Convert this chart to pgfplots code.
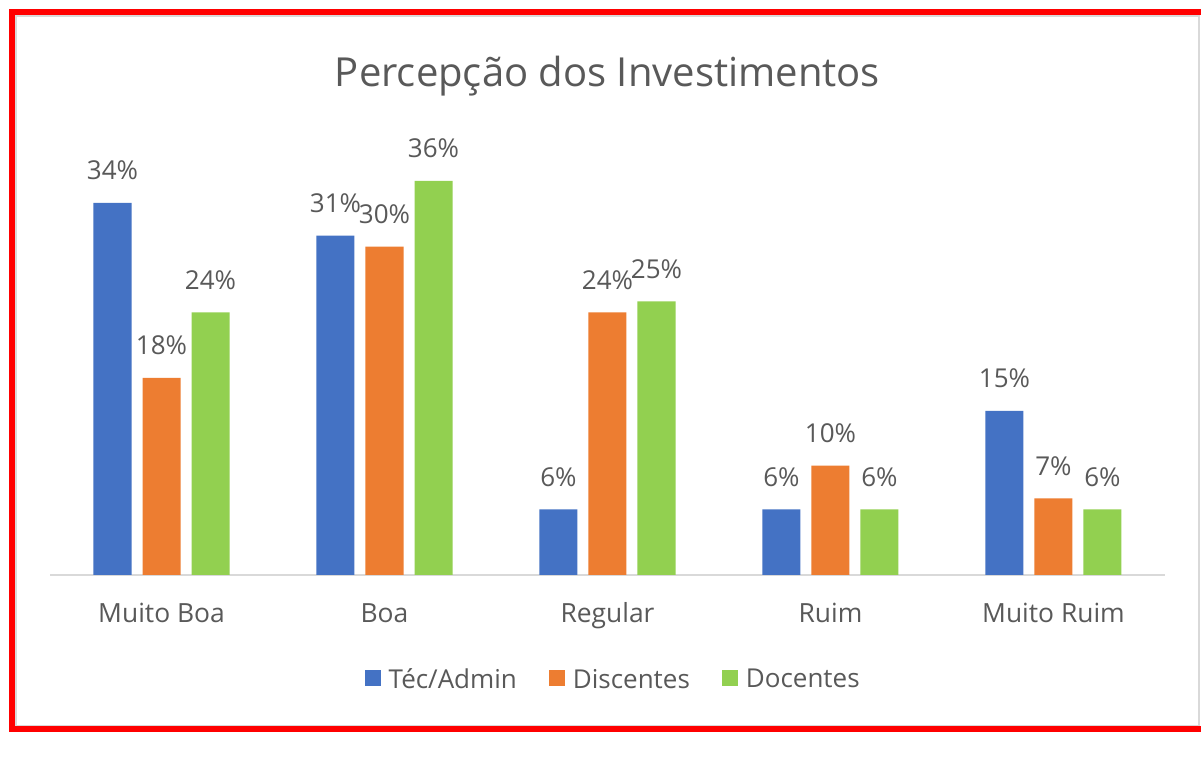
\documentclass[border=0pt]{standalone}
\usepackage{pgfplots}
\pgfplotsset{compat=1.18}
\usepackage{fontspec}
\setmainfont{Open Sans}
\definecolor{cblue}{HTML}{4472C4}
\definecolor{corange}{HTML}{ED7D31}
\definecolor{cgreen}{HTML}{92D050}
\definecolor{tgray}{HTML}{595959}
\definecolor{agray}{HTML}{D9D9D9}
\begin{document}
\begin{tikzpicture}
\begin{scope}[x=0.5pt,y=0.5pt]
\useasboundingbox (0,0) rectangle (1201,760);
\fill[white] (0,0) rectangle (1201,760);
\begin{scope}
\clip (0,0) rectangle (1201,760);
\draw[agray, line width=1pt] (16,744) rectangle (1199,34);
\draw[red, line width=3pt] (11.5,747.5) rectangle (1210,30.5);
\end{scope}
\node[anchor=base, text=tgray, font=\fontsize{20}{24}\selectfont, inner sep=0pt] at (607.5,673) {Percepção dos Investimentos};
\end{scope}
\begin{axis}[
  at={(25pt,92.5pt)}, anchor=south west,
  scale only axis,
  width=557.5pt, height=218.9pt,
  xmin=-0.5, xmax=4.5, ymin=0, ymax=40,
  ybar=5.5pt, bar width=19pt,
  axis x line=bottom, axis y line=none,
  x axis line style={draw=agray, line width=1pt, -},
  xtick={0,1,2,3,4},
  xticklabels={Muito Boa,Boa,Regular,Ruim,Muito Ruim},
  major tick length=0pt,
  xtick style={draw=none},
  ytick=\empty,
  xticklabel style={anchor=base, yshift=-24pt, font=\fontsize{13.2}{15}\selectfont, text=tgray, inner sep=0pt},
  /pgf/number format/assume math mode=true,
  nodes near coords={\pgfmathprintnumber{\pgfplotspointmeta}\%},
  every node near coord/.append style={anchor=base, yshift=11.5pt, font=\fontsize{13}{15}\selectfont, text=tgray, inner sep=0pt},
  legend style={at={(0.506,-0.24)}, anchor=center, draw=none, fill=none,
    legend columns=3, font=\fontsize{13}{15}\selectfont, text=tgray,
    /tikz/every even column/.append style={column sep=14pt}},
  legend image code/.code={\fill[#1] (0pt,-3pt) rectangle (8pt,5pt); \path (10pt,0pt);},
  clip=false,
]
\addplot[fill=cblue, draw=none] coordinates {(0,34) (1,31) (2,6) (3,6) (4,15)};
\addplot[fill=corange, draw=none] coordinates {(0,18) (1,30) (2,24) (3,10) (4,7)};
\addplot[fill=cgreen, draw=none] coordinates {(0,24) (1,36) (2,25) (3,6) (4,6)};
\legend{Téc/Admin, Discentes, Docentes}
\end{axis}
\end{tikzpicture}
\end{document}
